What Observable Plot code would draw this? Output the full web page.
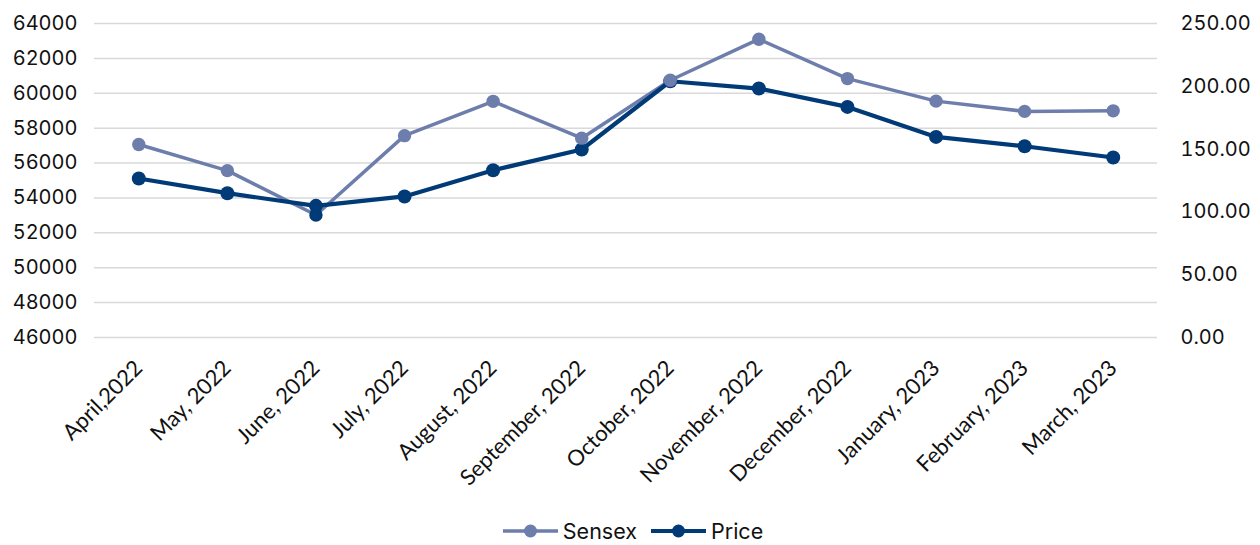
<!DOCTYPE html>
<html>
<head>
<meta charset="utf-8">
<script src="https://cdn.jsdelivr.net/npm/d3@7"></script>
<script src="https://cdn.jsdelivr.net/npm/@observablehq/plot@0.6"></script>
<style>
  html, body { margin: 0; padding: 0; background: #fff; }
  #chart { width: 1260px; }
  .legend { display: flex; justify-content: center; align-items: center; height: 52px;
            font-family: Inter, "Liberation Sans", sans-serif; font-size: 21.5px; color: #111; padding-left: 6px; }
  .legend .item { display: flex; align-items: center; margin: 0 7px; }
  .legend svg { margin-right: 5px; }
</style>
</head>
<body>
<div id="chart"></div>
<script>
// Monthly Sensex close vs. share price, FY 2022-23
const months = ["April,2022", "May, 2022", "June, 2022", "July, 2022", "August, 2022", "September, 2022",
                "October, 2022", "November, 2022", "December, 2022", "January, 2023", "February, 2023", "March, 2023"];
const sensex = [57061, 55566, 53019, 57570, 59537, 57427, 60747, 63100, 60841, 59550, 58962, 58992];
const price  = [126.6, 114.9, 104.8, 112.3, 133.2, 149.7, 204.0, 198.2, 183.6, 159.7, 152.3, 143.3];

const leftTicks  = [46000, 48000, 50000, 52000, 54000, 56000, 58000, 60000, 62000, 64000];
const rightTicks = [0, 50, 100, 150, 200, 250];

const lightBlue = "#6e7eac";
const navy = "#003a77";

// Price is drawn on the Sensex y scale via a linear map between the two axes
const toLeft = d3.scaleLinear().domain([0, 250]).range([46000, 64000]);

const rows = months.map((m, i) => ({month: m, sensex: sensex[i], price: toLeft(price[i])}));

const chart = Plot.plot({
  width: 1260,
  height: 505,
  marginLeft: 94,
  marginRight: 103,
  marginTop: 23,
  marginBottom: 168,
  style: {fontFamily: "Inter, 'Liberation Sans', sans-serif", fontSize: "20px", color: "#111"},
  x: {type: "point", domain: months, padding: 0.5, round: false},
  y: {domain: [46000, 64000]},
  marks: [
    Plot.gridY(leftTicks, {stroke: "#d9d9d9", strokeOpacity: 1, strokeWidth: 1.5}),
    Plot.axisY({ticks: leftTicks, tickSize: 0, tickPadding: 17, tickFormat: d => String(d), label: null}),
    Plot.axisY({anchor: "right", ticks: rightTicks.map(toLeft), tickSize: 0, tickPadding: 23,
                textAnchor: "start", tickFormat: d => toLeft.invert(d).toFixed(2), label: null}),
    Plot.axisX({tickRotate: -45, tickSize: 0, tickPadding: 27, label: null,
                fontFamily: "Lato, 'Open Sans', sans-serif", fontSize: 22}),
    Plot.line(rows, {x: "month", y: "sensex", stroke: lightBlue, strokeWidth: 3.5}),
    Plot.line(rows, {x: "month", y: "price", stroke: navy, strokeWidth: 4.2}),
    Plot.dot(rows, {x: "month", y: "price", r: 7, fill: navy}),
    Plot.dot(rows, {x: "month", y: "sensex", r: 6.7,
                    fill: d => d.month === "June, 2022" ? navy : lightBlue})
  ]
});
document.getElementById("chart").append(chart);

// Legend below the plot
const legend = document.createElement("div");
legend.className = "legend";
[["Sensex", lightBlue, 3.5], ["Price", navy, 4.2]].forEach(([name, color, w]) => {
  const item = document.createElement("div");
  item.className = "item";
  item.innerHTML = `<svg width="55" height="16"><line x1="0" x2="55" y1="8" y2="8" stroke="${color}" stroke-width="${w}"/>` +
    `<circle cx="27.5" cy="8" r="6.5" fill="${color}"/></svg><span>${name}</span>`;
  legend.append(item);
});
document.getElementById("chart").append(legend);
</script>
</body>
</html>
